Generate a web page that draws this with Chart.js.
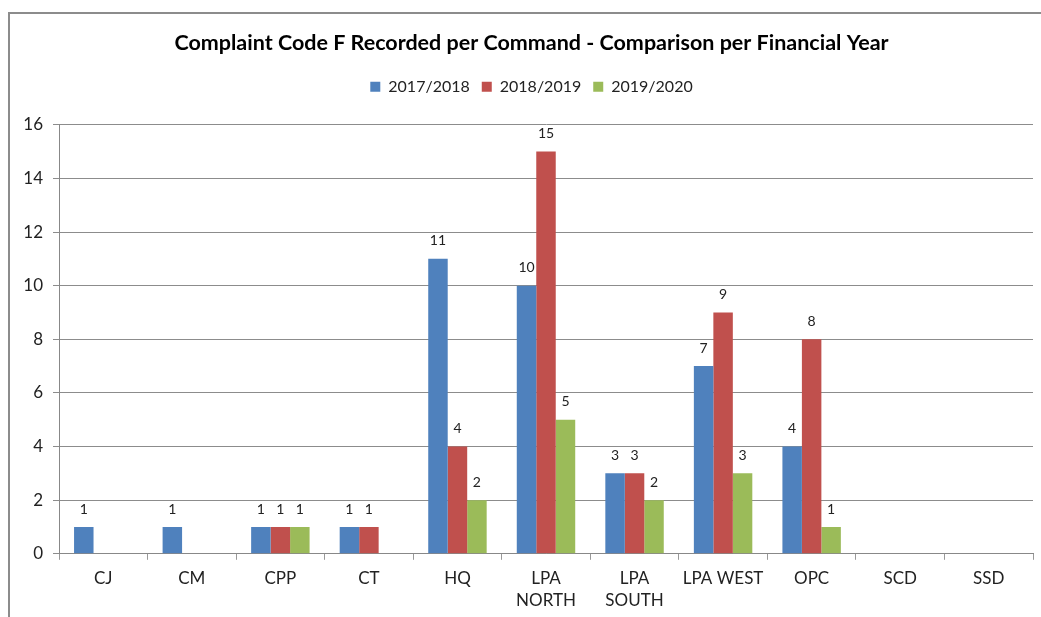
<!DOCTYPE html>
<html>
<head>
<meta charset="utf-8">
<script src="https://cdn.jsdelivr.net/npm/chart.js@4/dist/chart.umd.min.js"></script>
<style>
  body { margin: 0; background: #fff; }
  #wrap { position: relative; width: 1041px; height: 617px; }
</style>
</head>
<body>
<div id="wrap"><canvas id="myChart" width="1041" height="617"></canvas></div>
<script>
var commands = ["CJ", "CM", "CPP", "CT", "HQ", ["LPA", "NORTH"], ["LPA", "SOUTH"], "LPA WEST", "OPC", "SCD", "SSD"];
var fy1718 = [1, 1, 1, 1, 11, 10, 3, 7, 4, null, null];
var fy1819 = [null, null, 1, 1, 4, 15, 3, 9, 8, null, null];
var fy1920 = [null, null, 1, null, 2, 5, 2, 3, 1, null, null];
var yTicks = [0, 2, 4, 6, 8, 10, 12, 14, 16];

var fontName = "Lato, 'Liberation Sans', sans-serif";

// labels on top of bars + outer frame
var barLabels = {
  id: 'barLabels',
  afterLayout: function(chart) {
    // title and legend sit a bit right of canvas centre
    chart.titleBlock.left += 30;
    chart.legend.left += 30;
  },
  afterDatasetsDraw: function(chart) {
    var ctx = chart.ctx;
    ctx.save();
    ctx.font = "14px " + fontName;
    ctx.fillStyle = "#222";
    ctx.textAlign = "center";
    ctx.textBaseline = "middle";
    chart.data.datasets.forEach(function(ds, i) {
      chart.getDatasetMeta(i).data.forEach(function(bar, j) {
        if (ds.data[j] == null) return;
        ctx.fillText(ds.data[j], bar.x, bar.y - 18);
      });
    });
    ctx.restore();
  },
  beforeDraw: function(chart) {
    var ctx = chart.ctx;
    ctx.save();
    ctx.strokeStyle = "#8c8c8c";
    ctx.lineWidth = 2;
    ctx.beginPath();
    ctx.moveTo(9, 640);
    ctx.lineTo(9, 13);
    ctx.lineTo(1060, 13);
    ctx.stroke();
    ctx.restore();
  }
};

var ctxB = document.getElementById("myChart").getContext('2d');
var myBarChart = new Chart(ctxB, {
  type: 'bar',
  data: {
    labels: commands,
    datasets: [
      { label: "2017/2018", data: fy1718, backgroundColor: "#4F81BD" },
      { label: "2018/2019", data: fy1819, backgroundColor: "#C0504D" },
      { label: "2019/2020", data: fy1920, backgroundColor: "#9BBB59" }
    ]
  },
  options: {
    responsive: false,
    animation: false,
    categoryPercentage: 0.66,
    barPercentage: 1,
    layout: { padding: { left: 0, right: 8, top: 0, bottom: 0 } },
    plugins: {
      tooltip: { enabled: false },
      title: {
        display: true,
        text: "Complaint Code F Recorded per Command - Comparison per Financial Year",
        color: "#000",
        font: { family: fontName, size: 21.5, weight: "bold" },
        padding: { top: 30, bottom: 11 }
      },
      // empty spacer between legend and plot
      subtitle: {
        display: true,
        text: "",
        weight: 500,
        font: { size: 10 },
        padding: { top: 8, bottom: 0 }
      },
      legend: {
        position: 'top',
        labels: {
          color: "#222",
          font: { family: fontName, size: 16 },
          boxWidth: 10,
          boxHeight: 10,
          padding: 12
        }
      }
    },
    scales: {
      x: {
        afterFit: function(scale) { scale.height = scale.height - 3; },
        grid: { drawOnChartArea: false, drawTicks: true, tickLength: 6, color: "#999" },
        border: { color: "#888" },
        ticks: { color: "#222", font: { family: fontName, size: 17, lineHeight: 1.3 }, padding: 8, maxRotation: 0, autoSkip: false }
      },
      y: {
        min: 0,
        max: 16,
        afterBuildTicks: function(scale) {
          scale.ticks = yTicks.map(function(v) { return { value: v }; });
        },
        afterFit: function(scale) { scale.width = 59; },
        grid: { color: "#8c8c8c", tickLength: 6 },
        border: { color: "#888" },
        ticks: { color: "#222", font: { family: fontName, size: 17 }, padding: 10 }
      }
    }
  },
  plugins: [barLabels]
});
</script>
</body>
</html>
